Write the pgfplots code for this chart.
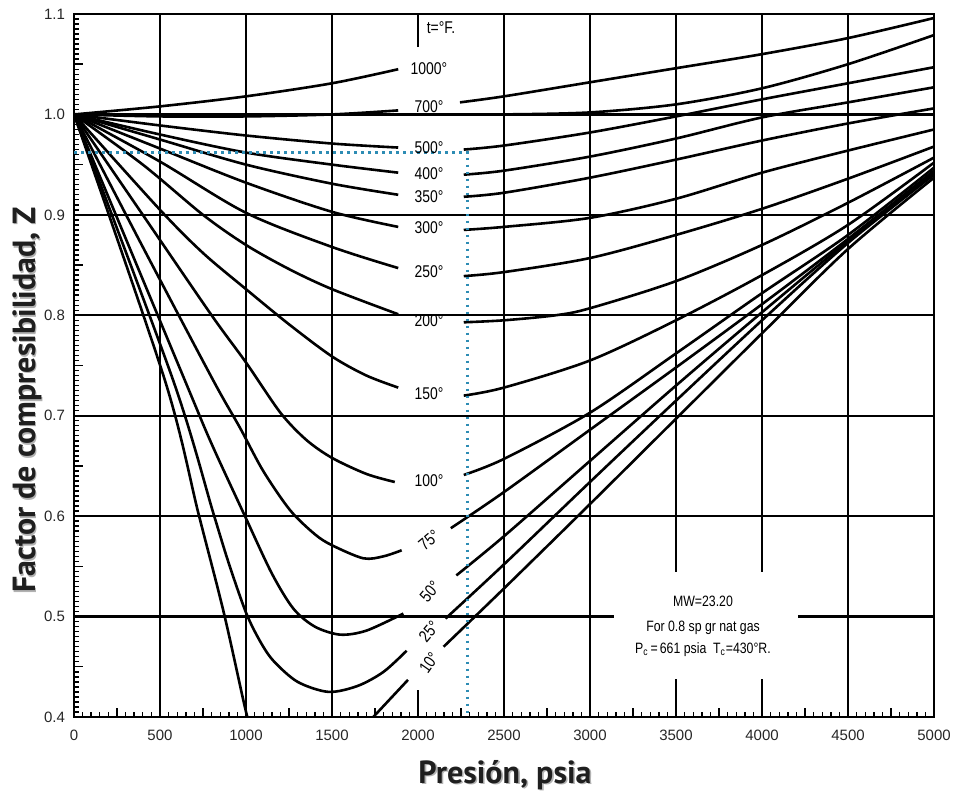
\documentclass[border=0pt]{standalone}
\usepackage{fontspec}
\setmainfont{Liberation Sans}
\newfontfamily\labfont{PT Sans}
\usepackage{graphicx}
\usepackage{pgfplots}
\pgfplotsset{compat=1.18}
\definecolor{dotblue}{RGB}{45,140,180}
\newcommand{\cl}[1]{\scalebox{0.82}[1]{#1}}
\tikzset{
  gl/.style={black, line width=1.1pt},
  clab/.style={font=\fontsize{8.5}{9}\selectfont, inner sep=0pt},
  nlab/.style={font=\fontsize{7.5}{8}\selectfont, inner sep=0pt},
  alab/.style={font=\labfont\bfseries\fontsize{16}{18}\selectfont, inner sep=0pt},
}
\begin{document}
\begin{tikzpicture}
\begin{axis}[
  scale only axis, width=430pt, height=351.5pt,
  xmin=0, xmax=5000, ymin=0.4, ymax=1.1,
  xtick={0,500,...,5000},
  ytick={0.4,0.5,0.6,0.7,0.8,0.9,1.0,1.1},
  scaled x ticks=false,
  xticklabel style={/pgf/number format/set thousands separator={}, yshift=-3pt},
  yticklabel style={/pgf/number format/fixed, /pgf/number format/fixed zerofill,
    /pgf/number format/precision=1, xshift=-1pt},
  /pgf/number format/assume math mode=true,
  ticklabel style={font=\fontsize{7.5}{8}\selectfont, text=black!85},
  xtick pos=bottom, ytick pos=left, tick align=inside,
  minor x tick num=9, minor y tick num=19,
  minor tick length=2.5pt, major tick length=4.5pt,
  tick style={black, line width=0.7pt},
  extra x ticks={250,750,1250,1750,2250,2750,3250,3750,4250,4750},
  extra y ticks={0.45,0.55,0.65,0.75,0.85,0.95,1.05},
  extra x tick labels={}, extra y tick labels={},
  extra tick style={grid=none, major tick length=4.5pt},
  ymajorgrids=true, xmajorgrids=false,
  major grid style={black, line width=1.1pt},
  axis line style={line width=1.4pt},
  clip mode=individual,
  curve/.style={black, line width=1.3pt, smooth, no markers},
]
\coordinate (SW) at (rel axis cs:0,0);
\coordinate (NE) at (rel axis cs:1,1);
% vertical grid lines (2000 only as short stubs)
\draw[gl] (axis cs:500,0.4) -- (axis cs:500,1.1);
\draw[gl] (axis cs:1000,0.4) -- (axis cs:1000,1.1);
\draw[gl] (axis cs:1500,0.4) -- (axis cs:1500,1.1);
\draw[gl] (axis cs:2500,0.4) -- (axis cs:2500,1.1);
\draw[gl] (axis cs:3000,0.4) -- (axis cs:3000,1.1);
\draw[gl] (axis cs:3500,0.4) -- (axis cs:3500,1.1);
\draw[gl] (axis cs:4000,0.4) -- (axis cs:4000,1.1);
\draw[gl] (axis cs:4500,0.4) -- (axis cs:4500,1.1);
\draw[gl] (axis cs:2000,0.4) -- (axis cs:2000,0.427);
\draw[gl] (axis cs:2000,1.067) -- (axis cs:2000,1.1);
\fill[white] (axis cs:3140,0.438) rectangle (axis cs:4210,0.544);

% 1000 F
\addplot[curve] coordinates {(0,1.0)(500,1.008)(1000,1.018)(1500,1.031)(1885,1.045)};
\addplot[curve] coordinates {(2244,1.012)(2500,1.018)(3000,1.032)(3500,1.046)(4000,1.060)(4500,1.076)(5000,1.096)};
% 700 F
\addplot[curve] coordinates {(0,1.0)(500,0.998)(1000,0.998)(1500,1.000)(1885,1.004)};
\addplot[curve] coordinates {(2150,1.0)(2500,1.0)(3000,1.002)(3500,1.010)(4000,1.026)(4500,1.050)(5000,1.079)};
% 500 F
\addplot[curve] coordinates {(0,1.0)(500,0.989)(1000,0.979)(1500,0.971)(1885,0.967)};
\addplot[curve] coordinates {(2266,0.965)(2500,0.969)(3000,0.982)(3500,0.998)(4000,1.015)(4500,1.031)(5000,1.047)};
% 400 F
\addplot[curve] coordinates {(0,1.0)(500,0.980)(1000,0.962)(1500,0.950)(1885,0.942)};
\addplot[curve] coordinates {(2266,0.940)(2500,0.944)(3000,0.958)(3500,0.976)(4000,0.997)(4500,1.012)(5000,1.027)};
% 350 F
\addplot[curve] coordinates {(0,1.0)(500,0.975)(1000,0.950)(1500,0.931)(1885,0.920)};
\addplot[curve] coordinates {(2266,0.918)(2500,0.922)(3000,0.937)(3500,0.955)(4000,0.974)(4500,0.991)(5000,1.006)};
% 300 F
\addplot[curve] coordinates {(0,1.0)(500,0.966)(1000,0.932)(1500,0.903)(1885,0.888)};
\addplot[curve] coordinates {(2266,0.885)(2500,0.888)(3000,0.897)(3500,0.916)(4000,0.942)(4500,0.964)(5000,0.985)};
% 250 F
\addplot[curve] coordinates {(0,1.0)(500,0.953)(1000,0.902)(1500,0.868)(1885,0.847)};
\addplot[curve] coordinates {(2266,0.839)(2500,0.843)(3000,0.857)(3500,0.880)(4000,0.906)(4500,0.936)(5000,0.968)};
% 200 F
\addplot[curve] coordinates {(0,1.0)(400,0.950)(750,0.900)(1000,0.870)(1250,0.846)(1500,0.826)(1885,0.801)};
\addplot[curve] coordinates {(2266,0.793)(2500,0.795)(2800,0.800)(3000,0.807)(3500,0.834)(4000,0.870)(4500,0.912)(5000,0.957)};
% 150 F
\addplot[curve] coordinates {(0,1.0)(500,0.905)(750,0.862)(1000,0.826)(1250,0.791)(1500,0.759)(1700,0.740)(1885,0.728)};
\addplot[curve] coordinates {(2266,0.720)(2500,0.728)(3000,0.755)(3500,0.795)(4000,0.840)(4500,0.890)(5000,0.952)};
% 100 F
\addplot[curve] coordinates {(0,1.0)(400,0.900)(800,0.800)(1000,0.753)(1200,0.703)(1350,0.676)(1500,0.658)(1700,0.642)(1865,0.634)};
\addplot[curve] coordinates {(2266,0.641)(2500,0.657)(3000,0.703)(3500,0.762)(4000,0.822)(4500,0.880)(5000,0.947)};
% 75 F
\addplot[curve] coordinates {(0,1.0)(400,0.868)(810,0.735)(965,0.688)(1100,0.645)(1256,0.606)(1400,0.582)(1500,0.571)(1682,0.558)(1800,0.560)(1905,0.566)};
\addplot[curve] coordinates {(2191,0.588)(2500,0.624)(3000,0.686)(3500,0.748)(4000,0.811)(4500,0.876)(5000,0.944)};
% 50 F
\addplot[curve] coordinates {(0,1.0)(645,0.735)(800,0.672)(994,0.600)(1150,0.543)(1275,0.508)(1400,0.490)(1547,0.482)(1700,0.486)(1915,0.503)};
\addplot[curve] coordinates {(2223,0.541)(2500,0.580)(3000,0.655)(3500,0.730)(4000,0.803)(4500,0.874)(5000,0.942)};
% 25 F
\addplot[curve] coordinates {(0,1.0)(577,0.735)(810,0.603)(900,0.553)(1000,0.504)(1080,0.476)(1159,0.456)(1300,0.435)(1480,0.425)(1650,0.431)(1800,0.445)(1934,0.466)};
\addplot[curve] coordinates {(2160,0.498)(2500,0.552)(3000,0.634)(3500,0.715)(4000,0.795)(4500,0.872)(5000,0.940)};
% 10 F
\addplot[curve] coordinates {(0,1.0)(529,0.735)(723,0.603)(868,0.506)(984,0.417)(1008,0.400)};
\addplot[curve] coordinates {(1740,0.400)(1942,0.437)};
\addplot[curve] coordinates {(2149,0.470)(2500,0.528)(3000,0.612)(3500,0.697)(4000,0.782)(4500,0.866)(5000,0.937)};

% reading lines
\addplot[dotblue, line width=1.5pt, dash pattern=on 1.3pt off 2.2pt, no markers]
  coordinates {(0,0.962)(2290,0.962)(2290,0.4)};

% curve labels
\node[clab] at (axis cs:2134,1.086) {\cl{t=°F.}};
\node[clab] at (axis cs:2064,1.046) {\cl{1000°}};
\node[clab] at (axis cs:2064,1.008) {\cl{700°}};
\node[clab] at (axis cs:2064,0.967) {\cl{500°}};
\node[clab] at (axis cs:2064,0.941) {\cl{400°}};
\node[clab] at (axis cs:2064,0.918) {\cl{350°}};
\node[clab] at (axis cs:2064,0.887) {\cl{300°}};
\node[clab] at (axis cs:2064,0.843) {\cl{250°}};
\node[clab] at (axis cs:2064,0.795) {\cl{200°}};
\node[clab] at (axis cs:2064,0.722) {\cl{150°}};
\node[clab] at (axis cs:2064,0.635) {\cl{100°}};
\node[clab, rotate=40] at (axis cs:2064,0.576) {\cl{75°}};
\node[clab, rotate=50] at (axis cs:2070,0.525) {\cl{50°}};
\node[clab, rotate=50] at (axis cs:2064,0.485) {\cl{25°}};
\node[clab, rotate=55] at (axis cs:2064,0.454) {\cl{10°}};

% note
\node[nlab] at (axis cs:3657,0.515) {\cl{MW=23.20}};
\node[nlab] at (axis cs:3657,0.489) {\cl{For 0.8 sp gr nat gas}};
\node[nlab] at (axis cs:3657,0.467) {\cl{P\textsubscript{c}\,=\,661 psia\ \ T\textsubscript{c}=430°R.}};
\end{axis}

\node[alab, text=black!30] at ([shift={(216.3pt,-29.8pt)}]SW) {Presión, psia};
\node[alab, text=black!88] at ([shift={(215.5pt,-29pt)}]SW) {Presión, psia};
\node[alab, text=black!30, rotate=90] at ([shift={(-22.7pt,157.7pt)}]SW) {Factor de compresibilidad, Z};
\node[alab, text=black!88, rotate=90] at ([shift={(-23.5pt,158.5pt)}]SW) {Factor de compresibilidad, Z};

\pgfresetboundingbox
\path ([shift={(-37pt,-41pt)}]SW) rectangle ([shift={(10.5pt,7pt)}]NE);
\end{tikzpicture}
\end{document}
